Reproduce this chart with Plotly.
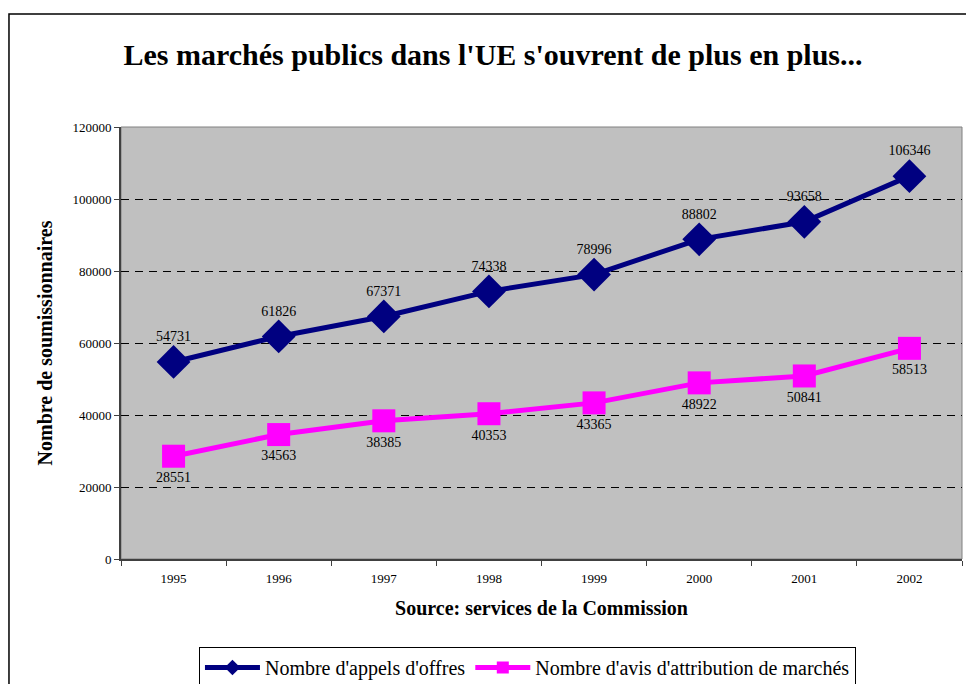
import plotly.graph_objects as go

# Data
years = ["1995", "1996", "1997", "1998", "1999", "2000", "2001", "2002"]
appels_offres = [54731, 61826, 67371, 74338, 78996, 88802, 93658, 106346]
avis_attribution = [28551, 34563, 38385, 40353, 43365, 48922, 50841, 58513]

serif = "Liberation Serif, Times New Roman, serif"

fig = go.Figure()

fig.add_trace(go.Scatter(
    x=years, y=appels_offres,
    name="Nombre d'appels d'offres",
    mode="lines+markers+text",
    line=dict(color="#000080", width=5),
    marker=dict(symbol="diamond", size=26, color="#000080"),
    text=[str(v) for v in appels_offres],
    textposition="top center",
    textfont=dict(family=serif, size=14, color="#000000"),
))

fig.add_trace(go.Scatter(
    x=years, y=avis_attribution,
    name="Nombre d'avis d'attribution de marchés",
    mode="lines+markers+text",
    line=dict(color="#FF00FF", width=5),
    marker=dict(symbol="square", size=23, color="#FF00FF"),
    text=[str(v) for v in avis_attribution],
    textposition="bottom center",
    textfont=dict(family=serif, size=14, color="#000000"),
))

fig.update_layout(
    width=966, height=684,
    margin=dict(l=121, r=4, t=127, b=125, autoexpand=False),
    paper_bgcolor="white",
    plot_bgcolor="#C0C0C0",
    font=dict(family=serif, color="#000000"),
    title=dict(
        text="<b>Les marchés publics dans l'UE s'ouvrent de plus en plus...</b>",
        font=dict(family=serif, size=30, color="#000000"),
        x=(493 / 966), xanchor="center",
        y=1 - 54 / 684, yanchor="middle",
    ),
    showlegend=True,
    legend=dict(
        orientation="h",
        x=0.0927, xanchor="left",
        y=-0.2037, yanchor="top",
        bgcolor="white",
        bordercolor="#000000", borderwidth=1,
        font=dict(family=serif, size=20, color="#000000"),
        itemwidth=55,
        itemsizing="constant",
    ),
)

fig.update_xaxes(
    type="category",
    range=[-0.5, 7.5],
    tickson="boundaries",
    ticks="outside", ticklen=5, tickcolor="#404040",
    ticklabelstandoff=6,
    showline=True, linecolor="#404040", linewidth=2,
    showgrid=False,
    automargin=False,
    tickfont=dict(family=serif, size=13),
    title=dict(text="<b>Source: services de la Commission</b>",
               font=dict(family=serif, size=20), standoff=16),
)

fig.update_yaxes(
    range=[0, 120000],
    dtick=20000,
    tickformat="d",
    ticks="outside", ticklen=5, tickcolor="#404040",
    showline=True, linecolor="#404040", linewidth=2,
    showgrid=True, gridcolor="#000000", gridwidth=1, griddash="8px,6px",
    zeroline=False,
    automargin=False,
    tickfont=dict(family=serif, size=13),
    title=dict(text="<b>Nombre de soumissionnaires</b>",
               font=dict(family=serif, size=20), standoff=14),
)

# Plot area frame (top and right edges are grey) and outer chart border
fig.add_shape(type="rect", xref="paper", yref="paper", x0=0, x1=1, y0=0, y1=1,
              line=dict(color="#808080", width=1), layer="below")
fig.add_shape(type="rect", xref="paper", yref="paper",
              x0=-0.1332, x1=1.2, y0=-0.5, y1=1.2616,
              line=dict(color="#000000", width=1.5), layer="below")

# remove the default page margin so the figure sits at the window's top-left corner
fig.write_html("out.html", config={"displayModeBar": False},
               post_script="document.body.style.margin='0';")
